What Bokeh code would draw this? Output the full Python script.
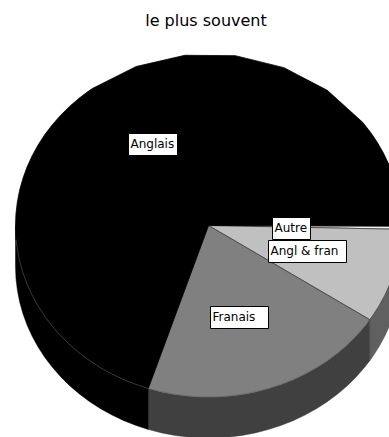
import math
from bokeh.core.properties import value
from bokeh.embed import file_html
from bokeh.plotting import figure
from bokeh.resources import INLINE

# Slices in clockwise drawing order, shares in percent
categories = ["Autre", "Angl & fran", "Franais", "Anglais"]
shares = [0.3, 8.9, 20.8, 70.0]
chart_title = "le plus souvent"

top_colors = ["#f2f2f2", "#c0c0c0", "#808080", "#000000"]
side_colors = ["#808080", "#606060", "#404040", "#000000"]

# Pie geometry, in page pixels
CX, CY, RX, RY, DEPTH = 208.0, 225.0, 193.0, 171.5, 41.0
START_DEG = 0.2
COARSE_DEG = 15.0
FINE_DEG = 4.0
# Rim corners are coarse along the far edge of the pie and fine elsewhere
COARSE_FROM, COARSE_TO = 233.0, 323.0

# Label boxes: left, right, top, bottom
label_boxes = [(272, 310, 217, 239), (268, 346, 240, 262), (210, 268, 306, 328), (128, 177, 133, 155)]


def arc_angles(a0, a1):
    """Arc ends plus the corners of the faceted rim that lie between them."""
    corners = []
    a = 0.0
    while a < COARSE_FROM:
        corners.append(a)
        a += FINE_DEG
    a = COARSE_FROM
    while a <= COARSE_TO:
        corners.append(a)
        a += COARSE_DEG
    a = COARSE_TO + FINE_DEG
    while a < 360.0:
        corners.append(a)
        a += FINE_DEG
    return [a0] + [a for a in corners if a0 < a < a1] + [a1]


def rim(a, drop=0.0):
    r = math.radians(a)
    return CX + RX * math.cos(r), CY + RY * math.sin(r) + drop


p = figure(width=389, height=437, x_range=(0, 389), y_range=(437, 0),
           output_backend="svg", toolbar_location=None, min_border=0,
           outline_line_color=None, background_fill_color="white")
p.axis.visible = False
p.grid.visible = False

# Cumulative slice boundaries, clockwise on the page
edges = [START_DEG]
for s in shares:
    edges.append(edges[-1] + s * 3.6)

# Side wall: only the part of each slice facing the viewer
for i in range(len(shares)):
    a0, a1 = max(edges[i], 0.0), min(edges[i + 1], 180.0)
    if a1 <= a0:
        continue
    arc = arc_angles(a0, a1)
    upper = [rim(a) for a in arc]
    lower = [rim(a, DEPTH) for a in reversed(arc)]
    pts = upper + lower
    p.patch([q[0] for q in pts], [q[1] for q in pts], fill_color=side_colors[i],
            line_color=side_colors[i], line_width=0.5)

# Top face
for i in range(len(shares)):
    arc = arc_angles(edges[i], edges[i + 1])
    pts = [(CX, CY)] + [rim(a) for a in arc]
    edge = "#404040" if i < 3 else "#000000"
    p.patch([q[0] for q in pts], [q[1] for q in pts], fill_color=top_colors[i],
            line_color=edge, line_width=0.8)

# Thin highlight where the top face meets the wall
arc = arc_angles(34.0, 175.0)
pts = [rim(a) for a in arc]
p.line([q[0] for q in pts], [q[1] for q in pts], line_color="white", line_alpha=0.3, line_width=0.6)

p.text([205.5], [20], text=[chart_title], text_align="center", text_baseline="middle",
       text_font=value("DejaVu Sans"), text_font_size="16px", text_color="black")

for name, (l, r, t, b) in zip(categories, label_boxes):
    p.quad(left=[l], right=[r], top=[t], bottom=[b], fill_color="white", line_color="black", line_width=1)
    p.text([l + 2], [(t + b) / 2 - 0.5], text=[name], text_align="left", text_baseline="middle",
           text_font=value("DejaVu Sans"), text_font_size="12px", text_color="black")

open("out.html", "w").write(file_html(p, INLINE))
